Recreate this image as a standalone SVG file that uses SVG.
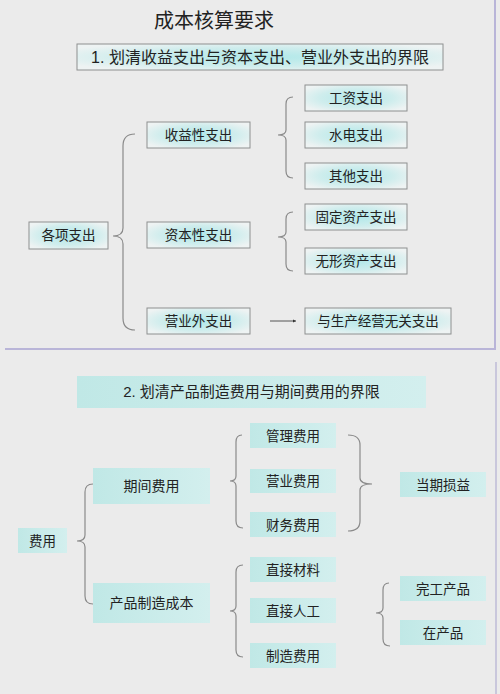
<svg xmlns="http://www.w3.org/2000/svg" width="500" height="694" viewBox="0 0 500 694">
<defs>
<radialGradient id="gTop" cx="0.5" cy="0.5" r="0.6">
<stop offset="0" stop-color="#b0e8e9"/>
<stop offset="0.6" stop-color="#cfeded"/>
<stop offset="1" stop-color="#eef3f3"/>
</radialGradient>
<linearGradient id="gBot" x1="0" y1="0" x2="1" y2="0">
<stop offset="0" stop-color="#c0e8e6"/>
<stop offset="1" stop-color="#d3efee"/>
</linearGradient>
<marker id="arr" markerWidth="4" markerHeight="4" refX="3" refY="2" orient="auto" markerUnits="userSpaceOnUse">
<path d="M0,0.5 L3,2 L0,3.5 Z" fill="#333"/>
</marker>
<style>
.t{font-family:"Liberation Sans","Noto Sans CJK SC",sans-serif;fill:#222;text-anchor:middle}
.bt rect{fill:url(#gTop);stroke:#8e9090;stroke-width:1}
.bb rect{fill:url(#gBot)}
.brace{fill:none;stroke:#8a8a8a;stroke-width:1.2}
</style>
</defs>
<rect x="0" y="0" width="500" height="694" fill="#ebebeb"/>
<g id="panels">
<path d="M5,349 L495,349 L495,0" fill="none" stroke="#b9b5d8" stroke-width="2"/>
<path d="M496,362 L496,694" fill="none" stroke="#c9c7dc" stroke-width="2"/>
</g>
<g id="title"><text class="t" x="214" y="28" font-size="20">成本核算要求</text></g>
<g id="h1" class="bt"><rect x="77" y="44" width="366" height="26"/><text class="t" x="260" y="63" font-size="16">1. 划清收益支出与资本支出、营业外支出的界限</text></g>
<g id="n_gezhi" class="bt"><rect x="29" y="222" width="79" height="27"/><text class="t" x="68.5" y="240" font-size="13.5">各项支出</text></g>
<g id="n_shouyi" class="bt"><rect x="147" y="122" width="103" height="26"/><text class="t" x="198.5" y="140" font-size="13.5">收益性支出</text></g>
<g id="n_ziben" class="bt"><rect x="147" y="222" width="103" height="26"/><text class="t" x="198.5" y="240" font-size="13.5">资本性支出</text></g>
<g id="n_yingyewai" class="bt"><rect x="147" y="308" width="103" height="26"/><text class="t" x="198.5" y="326" font-size="13.5">营业外支出</text></g>
<g id="n_gongzi" class="bt"><rect x="305" y="85" width="102" height="26"/><text class="t" x="356" y="103" font-size="13.5">工资支出</text></g>
<g id="n_shuidian" class="bt"><rect x="305" y="122" width="102" height="26"/><text class="t" x="356" y="140" font-size="13.5">水电支出</text></g>
<g id="n_qita" class="bt"><rect x="305" y="163" width="102" height="26"/><text class="t" x="356" y="181" font-size="13.5">其他支出</text></g>
<g id="n_guding" class="bt"><rect x="305" y="204" width="102" height="26"/><text class="t" x="356" y="222" font-size="13.5">固定资产支出</text></g>
<g id="n_wuxing" class="bt"><rect x="305" y="248" width="102" height="26"/><text class="t" x="356" y="266" font-size="13.5">无形资产支出</text></g>
<g id="n_wuguan" class="bt"><rect x="305" y="308" width="146" height="26"/><text class="t" x="378" y="326" font-size="13.5">与生产经营无关支出</text></g>

<g id="h2" class="bb"><rect x="77" y="376" width="349" height="32"/><text class="t" x="251.5" y="397" font-size="15">2. 划清产品制造费用与期间费用的界限</text></g>
<g id="n_feiyong" class="bb"><rect x="18" y="528" width="49" height="25"/><text class="t" x="42.5" y="545.5" font-size="13.5">费用</text></g>
<g id="n_qijian" class="bb"><rect x="93" y="468" width="117" height="36"/><text class="t" x="151.5" y="491" font-size="14">期间费用</text></g>
<g id="n_chanpin" class="bb"><rect x="93" y="583" width="117" height="40"/><text class="t" x="151.5" y="608" font-size="14">产品制造成本</text></g>
<g id="n_guanli" class="bb"><rect x="250" y="423" width="86" height="25"/><text class="t" x="293" y="440.5" font-size="13.5">管理费用</text></g>
<g id="n_yingye" class="bb"><rect x="250" y="469" width="86" height="24"/><text class="t" x="293" y="486" font-size="13.5">营业费用</text></g>
<g id="n_caiwu" class="bb"><rect x="250" y="512" width="86" height="25"/><text class="t" x="293" y="529.5" font-size="13.5">财务费用</text></g>
<g id="n_cailiao" class="bb"><rect x="250" y="557" width="86" height="25"/><text class="t" x="293" y="574.5" font-size="13.5">直接材料</text></g>
<g id="n_rengong" class="bb"><rect x="250" y="598" width="86" height="25"/><text class="t" x="293" y="615.5" font-size="13.5">直接人工</text></g>
<g id="n_zhizao" class="bb"><rect x="250" y="643" width="86" height="25"/><text class="t" x="293" y="660.5" font-size="13.5">制造费用</text></g>
<g id="n_sunyi" class="bb"><rect x="400" y="472" width="86" height="25"/><text class="t" x="443" y="489.5" font-size="13.5">当期损益</text></g>
<g id="n_wangong" class="bb"><rect x="400" y="576" width="86" height="25"/><text class="t" x="443" y="593.5" font-size="13.5">完工产品</text></g>
<g id="n_zaichan" class="bb"><rect x="400" y="620" width="86" height="25"/><text class="t" x="443" y="637.5" font-size="13.5">在产品</text></g>

<g id="connectors">
<path class="brace" d="M135,134 Q123,134 123,146 L123,228 Q123,236 113,236 Q123,236 123,244 L123,318 Q123,330 135,330"/>
<path class="brace" d="M293,97 Q286,97 286,104 L286,130 Q286,135 278,135 Q286,135 286,140 L286,171 Q286,178 293,178"/>
<path class="brace" d="M293,212 Q286,212 286,219 L286,232 Q286,237 278,237 Q286,237 286,242 L286,264 Q286,271 293,271"/>
<line x1="270" y1="321" x2="296" y2="321" stroke="#555" stroke-width="1" marker-end="url(#arr)"/>
<path class="brace" d="M93,484 Q85,484 85,492 L85,535 Q85,541 77,541 Q85,541 85,547 L85,596 Q85,604 93,604"/>
<path class="brace" d="M242,435 Q236,435 236,442 L236,476 Q236,481 230,481 Q236,481 236,486 L236,521 Q236,528 243,528"/>
<path class="brace" d="M348,435 Q360,435 360,445 L360,478 Q360,484 372,484 Q360,484 360,490 L360,521 Q360,531 348,531"/>
<path class="brace" d="M243,565 Q236,565 236,572 L236,606 Q236,611 230,611 Q236,611 236,616 L236,650 Q236,657 243,657"/>
<path class="brace" d="M389,583 Q383,583 383,590 L383,608 Q383,613 376,613 Q383,613 383,618 L383,639 Q383,646 390,646"/>
</g>
</svg>
